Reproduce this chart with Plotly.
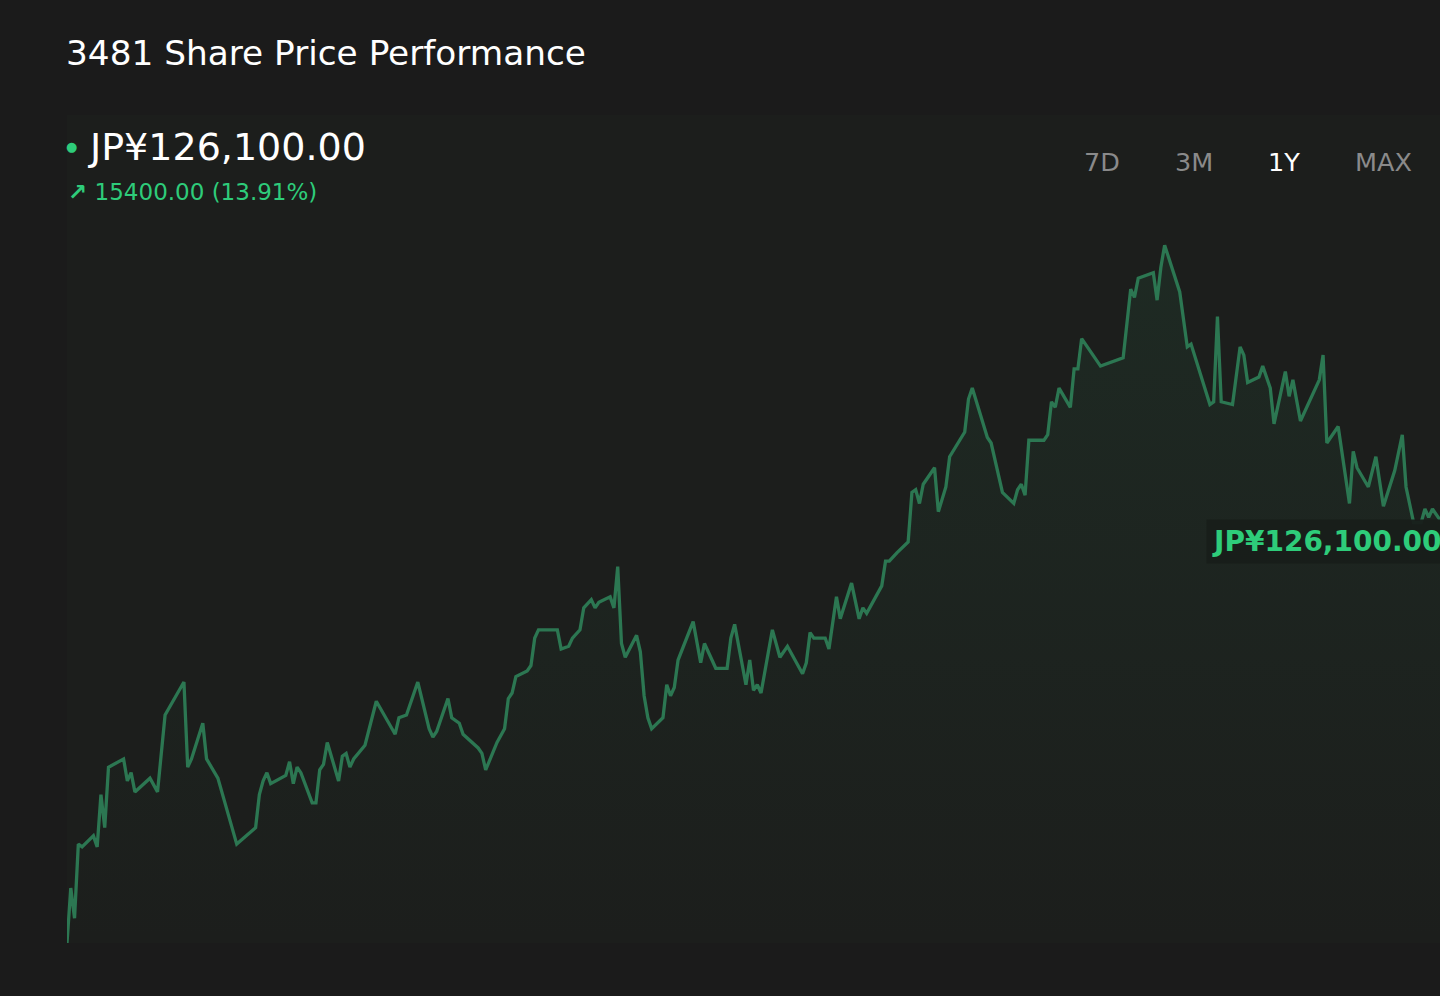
import plotly.graph_objects as go
import pandas as pd

# 1Y daily closes (day offset from start date, price in JPY)
start_date = "2024-06-14"
day_offsets = [
    0, 1, 2, 3, 4, 7, 8, 9, 10, 11, 15, 16, 17, 18, 22, 24, 26, 31, 32, 33,
    36, 37, 40, 45, 50, 51, 52, 53, 54, 58, 59, 60, 61, 62, 65, 66, 67, 68, 69, 72,
    73, 74, 75, 76, 79, 82, 87, 88, 90, 93, 96, 97, 98, 101, 102, 104, 105, 109, 110, 111,
    114, 116, 117, 118, 119, 122, 123, 124, 125, 126, 130, 131, 133, 134, 136, 137, 139, 140, 141, 144,
    145, 146, 147, 148, 151, 152, 153, 154, 155, 158, 159, 160, 161, 162, 166, 168, 169, 172, 175, 176,
    177, 180, 181, 182, 183, 184, 187, 189, 191, 195, 196, 197, 198, 201, 202, 204, 205, 208, 210, 211,
    212, 216, 217, 218, 220, 223, 224, 225, 226, 227, 230, 231, 233, 234, 238, 239, 240, 244, 245, 248,
    251, 252, 253, 254, 255, 259, 260, 261, 262, 263, 266, 267, 268, 269, 274, 280, 281, 282, 283, 284,
    288, 289, 290, 291, 295, 297, 298, 303, 304, 305, 306, 309, 311, 312, 313, 316, 317, 319, 320, 323,
    324, 325, 327, 332, 333, 334, 337, 340, 341, 342, 345, 347, 349, 352, 354, 355, 357, 359, 360, 361,
    362, 364,
]
prices = [
    110700, 112700, 111600, 114300, 114200, 114600, 114200, 116100, 114900, 117100,
    117400, 116600, 116900, 116200, 116700, 116200, 119000, 120200, 117100, 117400,
    118700, 117400, 116700, 114300, 114900, 116100, 116600, 116900, 116500, 116800,
    117300, 116500, 117100, 116900, 115800, 115800, 117000, 117200, 118000, 116600,
    117500, 117600, 117100, 117400, 117900, 119500, 118300, 118900, 119000, 120200,
    118500, 118200, 118400, 119600, 118900, 118700, 118300, 117800, 117600, 117000,
    118000, 118500, 119600, 119800, 120400, 120600, 120800, 121800, 122100, 122100,
    122100, 121400, 121500, 121800, 122100, 122900, 123200, 122900, 123100, 123300,
    122900, 124400, 121600, 121100, 121900, 121300, 119700, 118900, 118500, 118900,
    120100, 119700, 120000, 121000, 122400, 120900, 121600, 120700, 120700, 121800,
    122300, 120100, 121000, 119900, 120100, 119800, 122100, 121100, 121500, 120500,
    120900, 122000, 121800, 121800, 121400, 123300, 122500, 123800, 122500, 122900,
    122700, 123700, 124600, 124600, 124900, 125300, 127100, 127200, 126700, 127400,
    128000, 126400, 127300, 128400, 129300, 130500, 130900, 129100, 128900, 127100,
    126700, 127200, 127400, 127000, 129000, 129000, 129200, 130400, 130200, 130900,
    130200, 131600, 131600, 132700, 131700, 132000, 133400, 134500, 134200, 134900,
    135100, 134100, 135300, 136100, 134400, 132400, 132500, 130300, 130400, 133500,
    130400, 130300, 132400, 132100, 131100, 131300, 131700, 130900, 129600, 131500,
    130600, 131200, 129700, 131200, 132100, 128900, 129500, 126700, 128600, 128000,
    127300, 128400, 126600, 127900, 129200, 127300, 126000, 126000, 126500, 126200,
    126500, 126100,
]

ranges = ["7D", "3M", "1Y", "MAX"]
active_range = "1Y"

dates = pd.Timestamp(start_date) + pd.to_timedelta(day_offsets, unit="D")
last_price = prices[-1]
change = prices[-1] - prices[0]
change_pct = change / prices[0] * 100

BG = "#1b1b1b"
LINE = "#2c7752"
ACCENT = "#2ecc7a"
FONT = "DejaVu Sans"

fig = go.Figure()

fig.add_trace(go.Scatter(
    x=dates,
    y=prices,
    mode="lines",
    line=dict(color=LINE, width=3.3),
    fill="tozeroy",
    fillgradient=dict(
        type="vertical",
        start=min(prices),
        stop=max(prices),
        colorscale=[[0, "rgba(43,117,80,0.0)"], [1, "rgba(43,117,80,0.14)"]],
    ),
    hoverinfo="skip",
))

# header texts
fig.add_annotation(xref="paper", yref="paper", x=-0.002, y=1.075, xanchor="left", yanchor="middle",
                   text="3481 Share Price Performance", showarrow=False,
                   font=dict(family=FONT, size=34.3, color="#ffffff"))
fig.add_annotation(xref="paper", yref="paper", x=0.0036, y=0.9614, xanchor="center", yanchor="middle",
                   text="●", showarrow=False, font=dict(family=FONT, size=13, color=ACCENT))
fig.add_annotation(xref="paper", yref="paper", x=0.0142, y=0.9614, xanchor="left", yanchor="middle",
                   text=f"JP¥{last_price:,.2f}", showarrow=False,
                   font=dict(family=FONT, size=38, color="#ffffff"))
fig.add_annotation(xref="paper", yref="paper", x=-0.001, y=0.907, xanchor="left", yanchor="middle",
                   text=f"<b>↗</b> {change:.2f} ({change_pct:.2f}%)", showarrow=False,
                   font=dict(family=FONT, size=23, color=ACCENT))

# range selector labels
range_x = [0.7538, 0.8208, 0.8864, 0.9592]
for label, rx in zip(ranges, range_x):
    fig.add_annotation(xref="paper", yref="paper", x=rx, y=0.9432, xanchor="center", yanchor="middle",
                       text=label, showarrow=False,
                       font=dict(family=FONT, size=25.5,
                                 color="#ffffff" if label == active_range else "#8a8a8a"))

# last price tag (runs off the right edge, as in the source)
fig.add_annotation(xref="paper", yref="y", x=0.8298, y=last_price, xanchor="left", yanchor="top",
                   yshift=1, text=f"JP¥{last_price:,.2f}", showarrow=False,
                   bgcolor="rgba(24,30,26,0.95)", borderpad=5,
                   font=dict(family=FONT, size=28, color=ACCENT, weight="bold"))

fig.update_layout(
    width=1440,
    height=996,
    margin=dict(l=67, r=0, t=115, b=53),
    paper_bgcolor=BG,
    plot_bgcolor="#1c1e1c",
    showlegend=False,
    xaxis=dict(visible=False, range=[dates[0], dates[-1]], showgrid=False, zeroline=False),
    yaxis=dict(visible=False, range=[110700, 140840], showgrid=False, zeroline=False),
    hovermode=False,
)

fig.write_html(
    "out.html",
    config={"displayModeBar": False},
    post_script="document.body.style.margin='0';document.body.style.background='#1b1b1b';"
                "document.body.style.overflow='hidden';",
)
